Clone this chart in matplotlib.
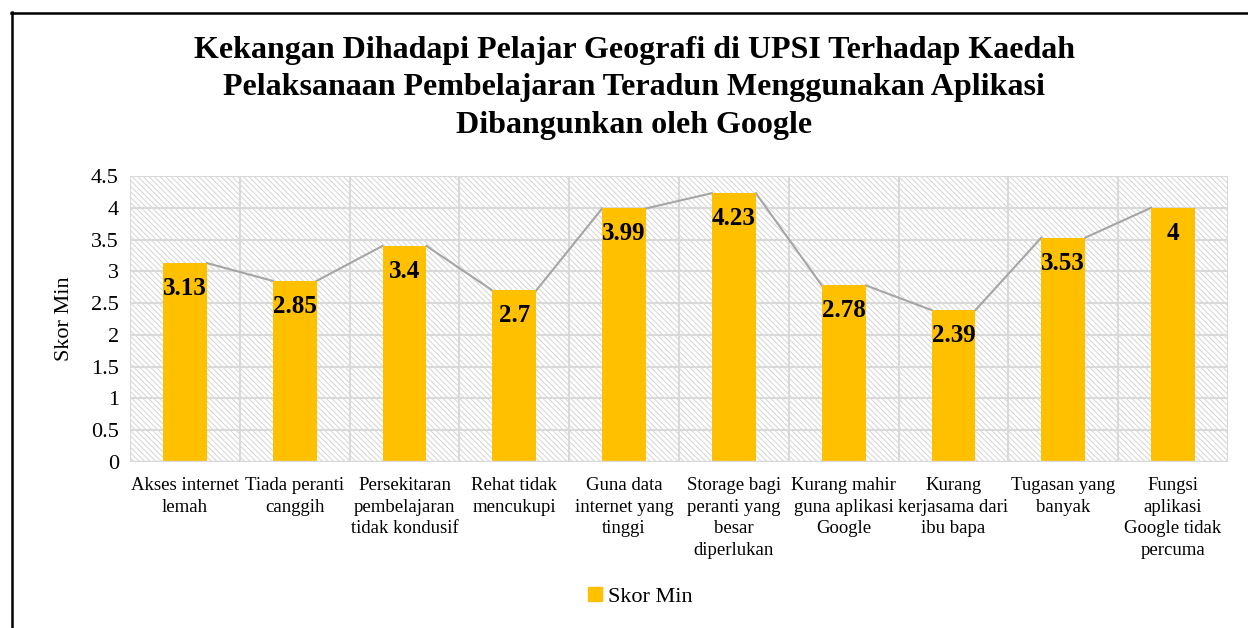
import numpy as np
import matplotlib
matplotlib.use("Agg")
import matplotlib.pyplot as plt
from matplotlib.patches import Rectangle
from matplotlib.lines import Line2D

plt.rcParams['font.family'] = ['Liberation Serif', 'DejaVu Serif']
plt.rcParams['hatch.color'] = '#d4d4d4'
plt.rcParams['hatch.linewidth'] = 0.7

title = ("Kekangan Dihadapi Pelajar Geografi di UPSI Terhadap Kaedah\n"
         "Pelaksanaan Pembelajaran Teradun Menggunakan Aplikasi\n"
         "Dibangunkan oleh Google")
categories = [
    "Akses internet\nlemah",
    "Tiada peranti\ncanggih",
    "Persekitaran\npembelajaran\ntidak kondusif",
    "Rehat tidak\nmencukupi",
    "Guna data\ninternet yang\ntinggi",
    "Storage bagi\nperanti yang\nbesar\ndiperlukan",
    "Kurang mahir\nguna aplikasi\nGoogle",
    "Kurang\nkerjasama dari\nibu bapa",
    "Tugasan yang\nbanyak",
    "Fungsi\naplikasi\nGoogle tidak\npercuma",
]
values = [3.13, 2.85, 3.4, 2.7, 3.99, 4.23, 2.78, 2.39, 3.53, 4]
value_labels = ["3.13", "2.85", "3.4", "2.7", "3.99", "4.23", "2.78", "2.39", "3.53", "4"]
yticks = [0, 0.5, 1, 1.5, 2, 2.5, 3, 3.5, 4, 4.5]
series_name = "Skor Min"

bar_color = '#FFC000'
grid_color = '#d9d9d9'
bw = 0.4

fig = plt.figure(figsize=(12.48, 6.28), dpi=100)
ax = fig.add_axes([130 / 1248, 1 - 462 / 628, 1098 / 1248, 286 / 628])

# hatched plot area background
ax.set_facecolor('white')
ax.add_patch(Rectangle((0, 0), 1, 1, transform=ax.transAxes, facecolor='white',
                       edgecolor='#d4d4d4', hatch='\\\\\\\\\\\\', linewidth=0, zorder=0))

x = np.arange(len(values))
ax.bar(x, values, width=bw, color=bar_color, zorder=3)

# series lines between bar tops
for i in range(len(values) - 1):
    ax.plot([x[i] + bw / 2, x[i + 1] - bw / 2], [values[i], values[i + 1]],
            color='#a5a5a5', lw=1.5, zorder=2)

for xi, v, lab in zip(x, values, value_labels):
    ax.annotate(lab, (xi, v), xytext=(0, -10), textcoords='offset points',
                ha='center', va='top', fontsize=18, fontweight='bold', zorder=4)

ax.set_xlim(-0.5, len(values) - 0.5)
ax.set_ylim(0, 4.5)
ax.set_yticks(yticks)
ax.set_yticklabels([f"{t:g}" for t in yticks], fontsize=16)
ax.set_xticks(x)
ax.set_xticklabels(categories, fontsize=13.5, va='top', linespacing=1.35)
ax.tick_params(axis='both', length=0)
ax.tick_params(axis='x', pad=11)
ax.tick_params(axis='y', pad=8)

for yv in yticks:
    ax.axhline(yv, color=grid_color, lw=1.5, zorder=1)
for xv in np.arange(-0.5, len(values), 1.0):
    ax.axvline(xv, color=grid_color, lw=1.5, zorder=1)
for s in ax.spines.values():
    s.set_visible(False)
ax.axhline(0, color=grid_color, lw=2.5, zorder=3)

ax.set_ylabel(series_name, fontsize=16, labelpad=12)

fig.text(634 / 1248, 1 - 88 / 628, title, ha='center', va='center',
         fontsize=23, fontweight='bold', linespacing=1.38)

handle = Line2D([], [], marker='s', linestyle='none', markersize=10,
                markerfacecolor=bar_color, markeredgecolor=bar_color)
fig.legend([handle], [series_name], loc='center', bbox_to_anchor=(638 / 1248, 1 - 597 / 628),
           frameon=False, fontsize=16, handletextpad=0.1, handlelength=1.0)

# outer border (top and left visible)
fig.add_artist(Line2D([11 / 1248, 1.0], [1 - 12.5 / 628, 1 - 12.5 / 628],
                      transform=fig.transFigure, color='black', lw=1.8))
fig.add_artist(Line2D([11.5 / 1248, 11.5 / 1248], [0, 1 - 12 / 628],
                      transform=fig.transFigure, color='black', lw=1.8))

fig.savefig("out.png", dpi=100)
